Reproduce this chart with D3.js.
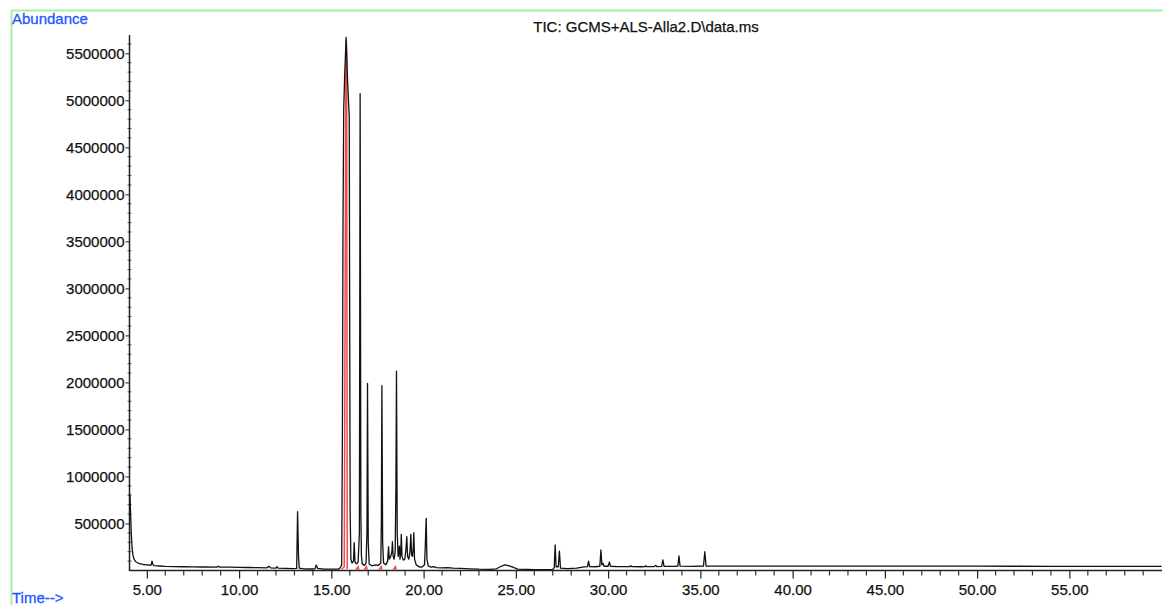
<!DOCTYPE html>
<html><head><meta charset="utf-8">
<script src="https://cdn.jsdelivr.net/npm/d3@7"></script>
<style>
body{margin:0;background:#fff}
svg{display:block}
text{font-family:"Liberation Sans",Arial,sans-serif}
</style>
</head><body>
<svg id="c" width="1163" height="605"></svg>
<script>
// ---- data ----
const title = "TIC: GCMS+ALS-Alla2.D\\data.ms";
const yAxisLabel = "Abundance";
const xAxisLabel = "Time-->";

const times = [
4.06,4.09,4.12,4.16,4.20,4.25,4.32,4.42,4.60,4.80,5.00,5.20,5.24,5.28,5.33,5.40,5.70,6.00,6.50,7.00,
7.50,8.00,8.80,8.87,8.95,9.50,10.00,10.50,11.00,11.50,11.62,11.70,12.00,12.05,12.12,12.50,12.90,13.12,13.17,13.22,
13.26,13.50,14.00,14.12,14.18,14.26,14.60,15.00,15.40,15.48,15.56,15.60,15.63,15.67,15.72,15.80,15.88,15.94,15.97,15.99,
16.02,16.06,16.12,16.20,16.24,16.28,16.36,16.45,16.52,16.56,16.60,16.63,16.67,16.80,16.88,16.93,16.96,17.00,17.05,17.20,
17.40,17.55,17.68,17.71,17.74,17.78,17.83,17.95,18.05,18.10,18.14,18.22,18.28,18.31,18.35,18.40,18.46,18.50,18.53,18.57,
18.62,18.69,18.72,18.76,18.79,18.83,18.90,18.98,19.03,19.09,19.13,19.20,19.26,19.31,19.35,19.40,19.44,19.47,19.51,19.60,
19.75,19.90,20.05,20.08,20.14,20.18,20.25,20.40,20.55,20.70,21.00,21.30,21.60,22.00,22.50,23.00,23.60,23.95,24.15,24.40,
24.65,24.90,25.10,25.60,26.00,26.50,27.00,27.08,27.13,27.18,27.30,27.36,27.42,27.80,28.30,28.60,28.88,28.94,29.00,29.30,
29.55,29.61,29.66,29.72,29.78,30.00,30.07,30.13,30.50,31.00,31.18,31.23,31.28,31.80,32.00,32.04,32.08,32.50,32.59,32.64,
32.90,32.97,33.03,33.60,33.78,33.84,33.90,34.50,35.17,35.24,35.31,36.00,38.00,40.00,42.00,44.00,46.00,48.00,50.00,52.00,
54.00,56.00,58.00,60.00
];
const abundance = [
820000,780000,600000,380000,240000,160000,115000,90000,72000,64000,60000,56000,62000,100000,62000,52000,48000,44000,42000,40000,
38000,37000,36000,45000,36000,35000,34000,32000,30000,28000,45000,28000,26000,40000,25000,22000,20000,22000,625000,150000,
25000,18000,16000,20000,58000,22000,15000,15000,15000,30000,60000,1500000,3600000,4900000,5250000,5670000,5200000,4950000,4830000,3000000,
600000,120000,80000,100000,296000,90000,70000,90000,400000,5070000,600000,160000,70000,55000,80000,400000,1990000,300000,70000,50000,
60000,55000,80000,500000,1965000,300000,80000,60000,100000,253000,120000,150000,200000,306000,150000,120000,200000,900000,2120000,400000,
150000,260000,120000,180000,385000,150000,110000,120000,200000,360000,150000,120000,200000,385000,160000,150000,250000,402000,120000,60000,
40000,35000,60000,200000,555000,120000,50000,35000,40000,30000,28000,30000,25000,22000,18000,14000,12000,18000,40000,60000,
50000,30000,15000,12000,10000,10000,12000,30000,271000,40000,40000,207000,25000,20000,25000,35000,42000,100000,42000,40000,
45000,218000,60000,77000,45000,45000,90000,45000,42000,42000,42000,52000,42000,40000,41000,50000,41000,42000,55000,42000,
44000,112000,44000,44000,48000,154000,46000,44000,48000,200000,48000,46000,46000,47000,47000,46000,47000,47000,46000,45000,
44000,44000,43000,43000
];

// red (integrated) trace of the main peak
const redTimes = [15.56,15.70,15.79,15.81,15.83,15.86];
const redAbundance = [15000,40000,5500000,5640000,5500000,15000];
// red integration baseline marks
const markTimes = [16.45,16.90,17.70,18.47];

const yMajor = [500000,1000000,1500000,2000000,2500000,3000000,3500000,4000000,4500000,5000000,5500000];
const xMajor = [5,10,15,20,25,30,35,40,45,50,55];

// ---- drawing ----
const svg = d3.select("#c");
const x = d3.scaleLinear().domain([4.06, 60.02]).range([129.5, 1162]);
const y = d3.scaleLinear().domain([0, 5500000]).range([570.5, 53.3]);

// green frame
svg.append("line").attr("x1",11.5).attr("x2",1163).attr("y1",10.5).attr("y2",10.5)
  .attr("stroke","#a6f0a6").attr("stroke-width",2);
svg.append("line").attr("x1",11.5).attr("x2",11.5).attr("y1",10).attr("y2",605)
  .attr("stroke","#a6f0a6").attr("stroke-width",2);

// labels
svg.append("text").attr("x",12).attr("y",24).attr("fill","#1f57ff")
  .attr("stroke","#1f57ff").attr("stroke-width",0.3)
  .attr("font-size",15).text(yAxisLabel);
svg.append("text").attr("x",12).attr("y",603).attr("fill","#1f57ff")
  .attr("stroke","#1f57ff").attr("stroke-width",0.3)
  .attr("font-size",15).text(xAxisLabel);
svg.append("text").attr("x",646).attr("y",32).attr("text-anchor","middle")
  .attr("fill","#111").attr("stroke","#111").attr("stroke-width",0.25)
  .attr("font-size",15).text(title);

// y axis
const yAx = svg.append("g").attr("transform","translate(129.5,0)")
  .call(d3.axisLeft(y).tickValues(yMajor).tickFormat(d3.format("d")).tickSize(4).tickPadding(1).tickSizeOuter(0));
yAx.select(".domain").remove();
yAx.selectAll("text").attr("font-size",15).attr("fill","#111").attr("stroke","#111").attr("stroke-width",0.25)
  .attr("font-family","Liberation Sans, Arial, sans-serif");
yAx.selectAll("line").attr("stroke","#222");
const yMinor = d3.range(100000, 5700000, 100000).filter(v => v % 500000 !== 0);
svg.append("g").selectAll("line").data(yMinor).join("line")
  .attr("x1",127.5).attr("x2",131.5).attr("y1",d=>y(d)).attr("y2",d=>y(d))
  .attr("stroke","#555").attr("stroke-width",1);
svg.append("line").attr("x1",129.5).attr("x2",129.5).attr("y1",35).attr("y2",571)
  .attr("stroke","#222").attr("stroke-width",1.5);

// x axis
const xAx = svg.append("g").attr("transform","translate(0,570.5)")
  .call(d3.axisBottom(x).tickValues(xMajor).tickFormat(d3.format(".2f")).tickSize(8).tickPadding(6).tickSizeOuter(0));
xAx.select(".domain").remove();
xAx.selectAll("text").attr("font-size",15).attr("fill","#111").attr("stroke","#111").attr("stroke-width",0.25)
  .attr("font-family","Liberation Sans, Arial, sans-serif");
xAx.selectAll("line").attr("stroke","#222").attr("stroke-width",1.2);
const xMinor = d3.range(5, 60, 1).filter(v => v % 5 !== 0);
svg.append("g").selectAll("line").data(xMinor).join("line")
  .attr("x1",d=>x(d)).attr("x2",d=>x(d)).attr("y1",570.5).attr("y2",575.5)
  .attr("stroke","#333").attr("stroke-width",1.2);
svg.append("line").attr("x1",129.5).attr("x2",1162).attr("y1",570.5).attr("y2",570.5)
  .attr("stroke","#222").attr("stroke-width",1.5);

// red integration trace
const line = d3.line().x(d=>x(d[0])).y(d=>y(d[1]));
svg.append("path").datum(d3.zip(redTimes, redAbundance)).attr("d", line)
  .attr("fill","none").attr("stroke","#f24a4a").attr("stroke-width",1.5);
svg.append("g").selectAll("path").data(markTimes).join("path")
  .attr("d", t => line([[t-0.12, 8000],[t, 40000],[t+0.04, 8000]]))
  .attr("fill","none").attr("stroke","#f24a4a").attr("stroke-width",1.5);

// TIC trace
svg.append("path").datum(d3.zip(times, abundance)).attr("d", line)
  .attr("fill","none").attr("stroke","#111").attr("stroke-width",1.3)
  .attr("stroke-linejoin","round");
</script>
</body></html>
